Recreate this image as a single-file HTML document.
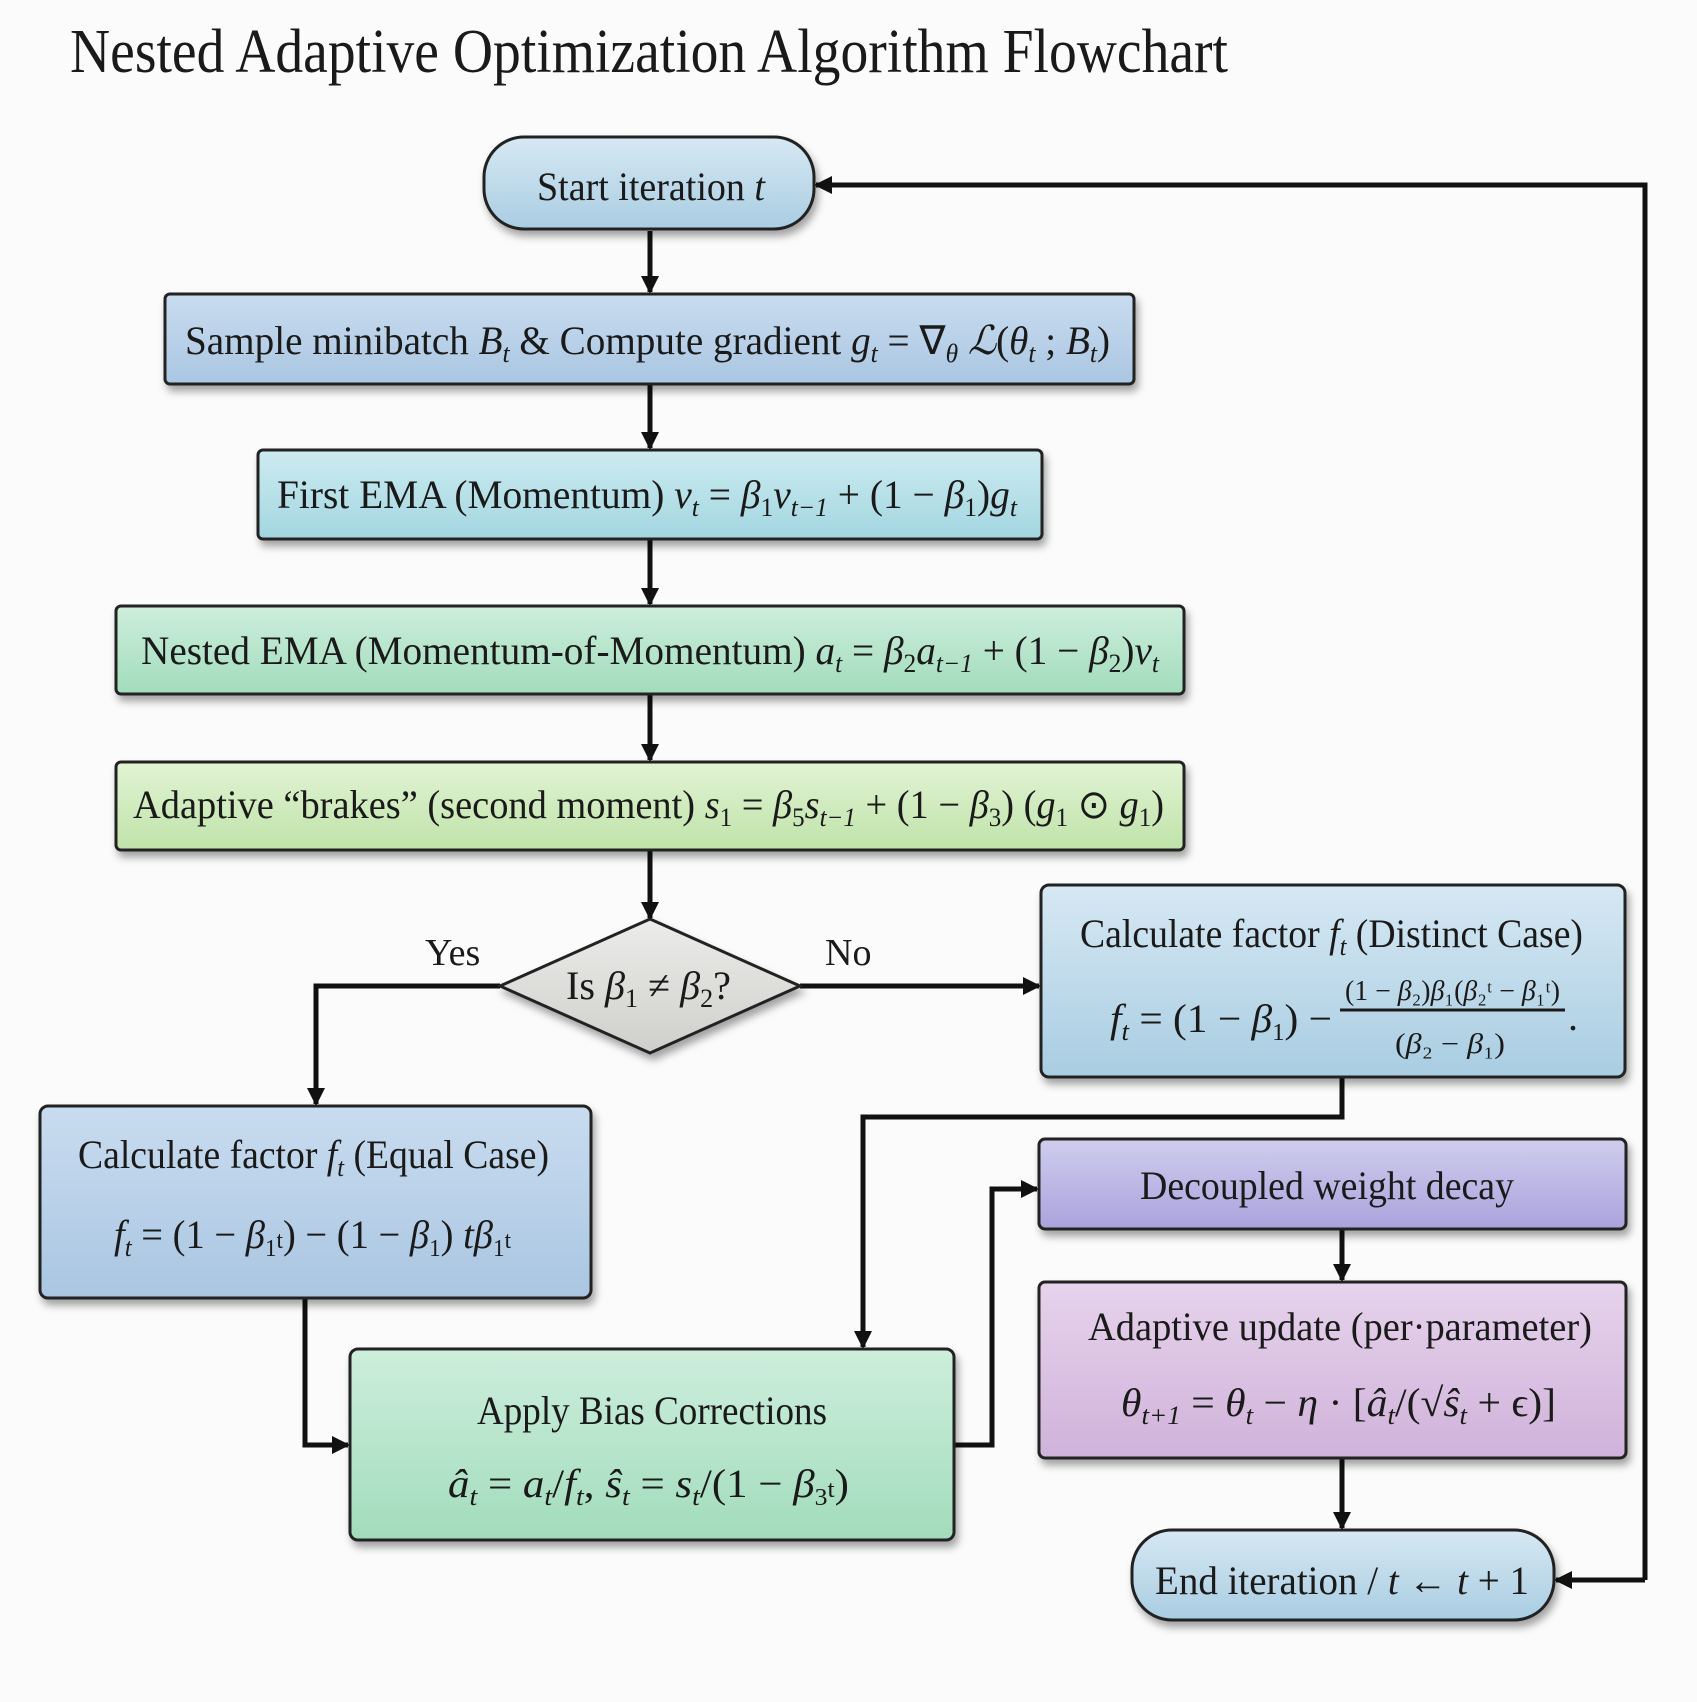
<!DOCTYPE html>
<html><head><meta charset="utf-8"><style>
html,body{margin:0;padding:0;background:#fafbfa;}
svg{display:block;font-family:"Liberation Serif",serif;}
</style></head><body>
<svg width="1697" height="1702" viewBox="0 0 1697 1702" xmlns="http://www.w3.org/2000/svg">
<defs>
<linearGradient id="gBlue" x1="0" y1="0" x2="0" y2="1"><stop offset="0" stop-color="#d6e8f3"/><stop offset="1" stop-color="#a9cde2"/></linearGradient>
<linearGradient id="gBlue2" x1="0" y1="0" x2="0" y2="1"><stop offset="0" stop-color="#c9dcef"/><stop offset="1" stop-color="#aac6e2"/></linearGradient>
<linearGradient id="gCyan" x1="0" y1="0" x2="0" y2="1"><stop offset="0" stop-color="#cdebf0"/><stop offset="1" stop-color="#a3d6e1"/></linearGradient>
<linearGradient id="gGreen" x1="0" y1="0" x2="0" y2="1"><stop offset="0" stop-color="#cdeedc"/><stop offset="1" stop-color="#a2dcbc"/></linearGradient>
<linearGradient id="gLime" x1="0" y1="0" x2="0" y2="1"><stop offset="0" stop-color="#e2f3d4"/><stop offset="1" stop-color="#bfe3a9"/></linearGradient>
<linearGradient id="gPurple" x1="0" y1="0" x2="0" y2="1"><stop offset="0" stop-color="#cfcdee"/><stop offset="1" stop-color="#aaa3dc"/></linearGradient>
<linearGradient id="gPink" x1="0" y1="0" x2="0" y2="1"><stop offset="0" stop-color="#e6d3ec"/><stop offset="1" stop-color="#d0b2da"/></linearGradient>
<linearGradient id="gGray" x1="0" y1="0" x2="0" y2="1"><stop offset="0" stop-color="#ececea"/><stop offset="1" stop-color="#cfcfcc"/></linearGradient>
<filter id="sh" x="-10%" y="-20%" width="120%" height="150%"><feDropShadow dx="3" dy="6" stdDeviation="4" flood-color="#000" flood-opacity="0.35"/></filter>
<marker id="ar" markerWidth="18" markerHeight="18" refX="16" refY="9" orient="auto" markerUnits="userSpaceOnUse"><path d="M0,0 L18,9 L0,18 Z" fill="#111"/></marker>
</defs>
<rect width="1697" height="1702" fill="#fafbfa"/>
<text x="70" y="72" font-size="62" fill="#1a1a1a" textLength="1158" lengthAdjust="spacingAndGlyphs">Nested Adaptive Optimization Algorithm Flowchart</text>

<g stroke="#111" stroke-width="5" fill="none">
<path d="M650,231 V292" marker-end="url(#ar)"/>
<path d="M650,384 V448" marker-end="url(#ar)"/>
<path d="M650,539 V604" marker-end="url(#ar)"/>
<path d="M650,694 V760" marker-end="url(#ar)"/>
<path d="M650,850 V918" marker-end="url(#ar)"/>
<path d="M500,986 H316 V1104" marker-end="url(#ar)"/>
<path d="M800,986 H1039" marker-end="url(#ar)"/>
<path d="M1342,1077 V1117 H863 V1347" marker-end="url(#ar)"/>
<path d="M305,1298 V1445 H348" marker-end="url(#ar)"/>
<path d="M954,1445 H992 V1189 H1037" marker-end="url(#ar)"/>
<path d="M1342,1229 V1280" marker-end="url(#ar)"/>
<path d="M1342,1458 V1528" marker-end="url(#ar)"/>
<path d="M1645,1580 V185 H816" marker-end="url(#ar)"/>
<path d="M1645,1580 H1556" marker-end="url(#ar)"/>
</g>

<g stroke="#222" stroke-width="3" filter="url(#sh)">
<rect x="484" y="137" width="330" height="92" rx="40" fill="url(#gBlue)"/>
<rect x="165" y="294" width="969" height="90" rx="5" fill="url(#gBlue2)"/>
<rect x="258" y="450" width="784" height="89" rx="5" fill="url(#gCyan)"/>
<rect x="116" y="606" width="1068" height="88" rx="5" fill="url(#gGreen)"/>
<rect x="116" y="762" width="1068" height="88" rx="5" fill="url(#gLime)"/>
<path d="M650,919 L800,986 L650,1053 L500,986 Z" fill="url(#gGray)"/>
<rect x="1041" y="885" width="584" height="192" rx="8" fill="url(#gBlue)"/>
<rect x="40" y="1106" width="551" height="192" rx="8" fill="url(#gBlue2)"/>
<rect x="1039" y="1139" width="587" height="90" rx="6" fill="url(#gPurple)"/>
<rect x="1039" y="1282" width="587" height="176" rx="6" fill="url(#gPink)"/>
<rect x="350" y="1349" width="604" height="191" rx="8" fill="url(#gGreen)"/>
<rect x="1132" y="1530" width="422" height="90" rx="40" fill="url(#gBlue)"/>
</g>

<g fill="#1a1a1a" font-size="40">
<text x="537" y="200" textLength="228" lengthAdjust="spacingAndGlyphs">Start iteration <tspan font-style="italic">t</tspan></text>
<text x="185" y="354" textLength="925" lengthAdjust="spacingAndGlyphs">Sample minibatch <tspan font-style="italic">B</tspan><tspan font-size="26" font-style="italic" dy="8">t</tspan><tspan dy="-8"> &amp; Compute gradient  </tspan><tspan font-style="italic">g</tspan><tspan font-size="26" font-style="italic" dy="8">t</tspan><tspan dy="-8"> = ∇</tspan><tspan font-size="26" font-style="italic" dy="8">θ</tspan><tspan dy="-8" font-style="italic"> ℒ</tspan>(<tspan font-style="italic">θ</tspan><tspan font-size="26" font-style="italic" dy="8">t</tspan><tspan dy="-8"> ; </tspan><tspan font-style="italic">B</tspan><tspan font-size="26" font-style="italic" dy="8">t</tspan><tspan dy="-8">)</tspan></text>
<text x="277" y="508" textLength="740" lengthAdjust="spacingAndGlyphs">First EMA (Momentum)  <tspan font-style="italic">v</tspan><tspan font-size="26" font-style="italic" dy="8">t</tspan><tspan dy="-8"> = </tspan><tspan font-style="italic">β</tspan><tspan font-size="26" dy="8">1</tspan><tspan dy="-8" font-style="italic">v</tspan><tspan font-size="26" font-style="italic" dy="8">t−1</tspan><tspan dy="-8"> + (1 − </tspan><tspan font-style="italic">β</tspan><tspan font-size="26" dy="8">1</tspan><tspan dy="-8">)</tspan><tspan font-style="italic">g</tspan><tspan font-size="26" font-style="italic" dy="8">t</tspan></text>
<text x="141" y="664" textLength="1018" lengthAdjust="spacingAndGlyphs">Nested EMA (Momentum-of-Momentum)  <tspan font-style="italic">a</tspan><tspan font-size="26" font-style="italic" dy="8">t</tspan><tspan dy="-8"> = </tspan><tspan font-style="italic">β</tspan><tspan font-size="26" dy="8">2</tspan><tspan dy="-8" font-style="italic">a</tspan><tspan font-size="26" font-style="italic" dy="8">t−1</tspan><tspan dy="-8"> + (1 − </tspan><tspan font-style="italic">β</tspan><tspan font-size="26" dy="8">2</tspan><tspan dy="-8">)</tspan><tspan font-style="italic">v</tspan><tspan font-size="26" font-style="italic" dy="8">t</tspan></text>
<text x="133" y="818" textLength="1031" lengthAdjust="spacingAndGlyphs">Adaptive “brakes” (second moment)  <tspan font-style="italic">s</tspan><tspan font-size="26" dy="8">1</tspan><tspan dy="-8"> = </tspan><tspan font-style="italic">β</tspan><tspan font-size="26" dy="8">5</tspan><tspan dy="-8" font-style="italic">s</tspan><tspan font-size="26" font-style="italic" dy="8">t−1</tspan><tspan dy="-8"> + (1 − </tspan><tspan font-style="italic">β</tspan><tspan font-size="26" dy="8">3</tspan><tspan dy="-8">) (</tspan><tspan font-style="italic">g</tspan><tspan font-size="26" dy="8">1</tspan><tspan dy="-8"> ⊙ </tspan><tspan font-style="italic">g</tspan><tspan font-size="26" dy="8">1</tspan><tspan dy="-8">)</tspan></text>
<text x="566" y="999" textLength="165" lengthAdjust="spacingAndGlyphs">Is <tspan font-style="italic">β</tspan><tspan font-size="26" dy="8">1</tspan><tspan dy="-8"> ≠ </tspan><tspan font-style="italic">β</tspan><tspan font-size="26" dy="8">2</tspan><tspan dy="-8">?</tspan></text>
<text x="425" y="965" font-size="38">Yes</text>
<text x="825" y="965" font-size="38">No</text>

<text x="1080" y="947" textLength="503" lengthAdjust="spacingAndGlyphs">Calculate factor <tspan font-style="italic">f</tspan><tspan font-size="26" font-style="italic" dy="8">t</tspan><tspan dy="-8"> (Distinct Case)</tspan></text>
<text x="1110" y="1032" textLength="222" lengthAdjust="spacingAndGlyphs"><tspan font-style="italic">f</tspan><tspan font-size="26" font-style="italic" dy="8">t</tspan><tspan dy="-8"> = (1 − </tspan><tspan font-style="italic">β</tspan><tspan font-size="24" dy="8">1</tspan><tspan dy="-8">) −</tspan></text>
<text x="1345" y="1000" font-size="28" textLength="215" lengthAdjust="spacingAndGlyphs">(1 − <tspan font-style="italic">β</tspan>₂)<tspan font-style="italic">β</tspan>₁(<tspan font-style="italic">β</tspan>₂ᵗ − <tspan font-style="italic">β</tspan>₁ᵗ)</text>
<line x1="1340" y1="1010" x2="1565" y2="1010" stroke="#1a1a1a" stroke-width="3"/>
<text x="1395" y="1053" font-size="28" textLength="110" lengthAdjust="spacingAndGlyphs">(<tspan font-style="italic">β</tspan>₂ − <tspan font-style="italic">β</tspan>₁)</text>
<text x="1568" y="1030">.</text>

<text x="78" y="1168" textLength="471" lengthAdjust="spacingAndGlyphs">Calculate factor <tspan font-style="italic">f</tspan><tspan font-size="26" font-style="italic" dy="8">t</tspan><tspan dy="-8"> (Equal Case)</tspan></text>
<text x="114" y="1248" textLength="397" lengthAdjust="spacingAndGlyphs"><tspan font-style="italic">f</tspan><tspan font-size="26" font-style="italic" dy="8">t</tspan><tspan dy="-8"> = (1 − </tspan><tspan font-style="italic">β</tspan><tspan font-size="24" dy="8">1</tspan><tspan dy="-8" font-size="24">t</tspan><tspan>) − (1 − </tspan><tspan font-style="italic">β</tspan><tspan font-size="24" dy="8">1</tspan><tspan dy="-8">) </tspan><tspan font-style="italic">tβ</tspan><tspan font-size="24" dy="8">1</tspan><tspan dy="-8" font-size="24">t</tspan></text>

<text x="1140" y="1199" textLength="374" lengthAdjust="spacingAndGlyphs">Decoupled weight decay</text>
<text x="1088" y="1340" textLength="504" lengthAdjust="spacingAndGlyphs">Adaptive update (per·parameter)</text>
<text x="1121" y="1416" textLength="435" lengthAdjust="spacingAndGlyphs"><tspan font-style="italic">θ</tspan><tspan font-size="26" font-style="italic" dy="8">t+1</tspan><tspan dy="-8"> = </tspan><tspan font-style="italic">θ</tspan><tspan font-size="26" font-style="italic" dy="8">t</tspan><tspan dy="-8"> − </tspan><tspan font-style="italic">η</tspan> · [<tspan font-style="italic">â</tspan><tspan font-size="26" font-style="italic" dy="8">t</tspan><tspan dy="-8">/(√</tspan><tspan font-style="italic">ŝ</tspan><tspan font-size="26" font-style="italic" dy="8">t</tspan><tspan dy="-8"> + ϵ)]</tspan></text>

<text x="477" y="1424" textLength="350" lengthAdjust="spacingAndGlyphs">Apply Bias Corrections</text>
<text x="448" y="1497" textLength="401" lengthAdjust="spacingAndGlyphs"><tspan font-style="italic">â</tspan><tspan font-size="26" font-style="italic" dy="8">t</tspan><tspan dy="-8"> = </tspan><tspan font-style="italic">a</tspan><tspan font-size="26" font-style="italic" dy="8">t</tspan><tspan dy="-8">/</tspan><tspan font-style="italic">f</tspan><tspan font-size="26" font-style="italic" dy="8">t</tspan><tspan dy="-8">, </tspan><tspan font-style="italic">ŝ</tspan><tspan font-size="26" font-style="italic" dy="8">t</tspan><tspan dy="-8"> = </tspan><tspan font-style="italic">s</tspan><tspan font-size="26" font-style="italic" dy="8">t</tspan><tspan dy="-8">/(1 − </tspan><tspan font-style="italic">β</tspan><tspan font-size="24" dy="8">3</tspan><tspan dy="-8" font-size="24">t</tspan><tspan>)</tspan></text>

<text x="1155" y="1594" textLength="374" lengthAdjust="spacingAndGlyphs">End iteration / <tspan font-style="italic">t</tspan> ← <tspan font-style="italic">t</tspan> + 1</text>
</g>
</svg>
</body></html>
